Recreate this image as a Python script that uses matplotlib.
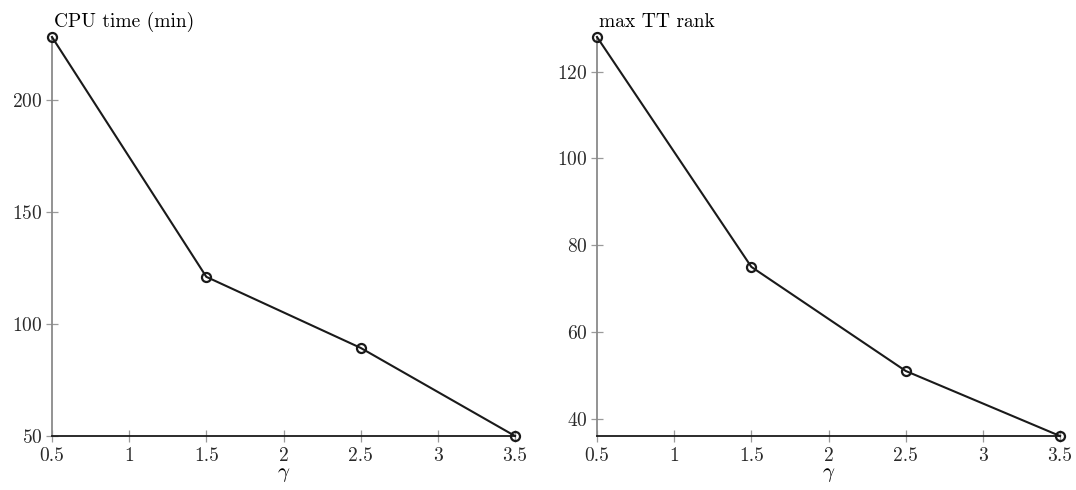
import matplotlib
matplotlib.use('Agg')
import matplotlib.pyplot as plt
from matplotlib.ticker import FuncFormatter

# 字体设置
plt.rcParams['font.family'] = ['cmr10']
plt.rcParams['mathtext.fontset'] = 'cm'
plt.rcParams['axes.formatter.use_mathtext'] = True
plt.rcParams['font.size'] = 14

# 数据
gamma = [0.5, 1.5, 2.5, 3.5]
cpu_time = [228, 121, 89.3, 50]
max_rank = [128, 75, 51, 36]

cpu_ticks = [50, 100, 150, 200]
rank_ticks = [40, 60, 80, 100, 120]
x_ticks = [0.5, 1, 1.5, 2, 2.5, 3, 3.5]

fig = plt.figure(figsize=(10.76, 4.9), dpi=100)
ax1 = fig.add_axes([52 / 1076, 54 / 490, 463 / 1076, 399 / 490])
ax2 = fig.add_axes([597 / 1076, 54 / 490, 463 / 1076, 399 / 490])


def style_axis(ax, y, yticks, title):
    ax.plot(gamma, y, color='#1a1a1a', lw=1.5, marker='o', ms=6.5,
            mfc='none', mec='#1a1a1a', mew=1.6, clip_on=False, zorder=3)
    ax.set_xlim(gamma[0], gamma[-1])
    ax.set_ylim(min(y), max(y))
    ax.set_xticks(x_ticks)
    ax.set_yticks(yticks)
    ax.xaxis.set_major_formatter(FuncFormatter(lambda v, p: '%g' % v))
    ax.spines['top'].set_visible(False)
    ax.spines['right'].set_visible(False)
    ax.spines['left'].set_color('#8a8a8a')
    ax.spines['left'].set_linewidth(1.3)
    ax.spines['bottom'].set_color('#1a1a1a')
    ax.spines['bottom'].set_linewidth(1.3)
    ax.tick_params(direction='inout', length=8, width=0.9, color='#9a9a9a',
                   labelcolor='#2a2a2a')
    ax.tick_params(axis='x', pad=4)
    ax.tick_params(axis='y', pad=3)
    ax.set_xlabel(r'$\gamma$', labelpad=1, fontsize=15)
    ax.text(0.005, 1.025, title, transform=ax.transAxes, ha='left', va='baseline')


style_axis(ax1, cpu_time, cpu_ticks, 'CPU time (min)')
style_axis(ax2, max_rank, rank_ticks, 'max TT rank')

fig.savefig('out.png', dpi=100)
